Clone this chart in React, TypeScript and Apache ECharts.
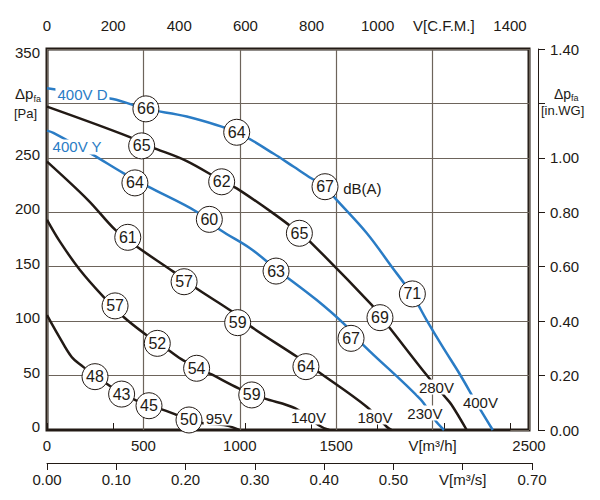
import { useEffect, useRef } from "react";
import * as echarts from "echarts";

const FONT = '"Liberation Sans", Arial, Helvetica, sans-serif';
const INK = "#221a15";
const BLUE = "#2a7cc5";
const GRID = "#6d645b";

// fan curves: [airflow m³/h, static pressure Pa]
const curve400VD = [[0, 314], [342, 304], [513, 295], [725, 288], [984, 273.5], [1174, 254], [1278, 242], [1373, 231], [1442, 223.5], [1494, 213], [1658, 181], [1788, 150], [1895, 124], [1969, 101], [2050, 77], [2142, 51], [2230, 24], [2312, 0]];
const curve280V = [[0, 297], [430, 269], [491, 263], [569, 258], [725, 247], [906, 229], [984, 222], [1174, 199], [1309, 181], [1373, 171.5], [1684, 115], [1727, 105], [1779, 93.5], [1969, 50.5], [2064, 30.6], [2099, 23], [2177, 0]];
const curve400VY = [[0, 275], [33, 273], [232, 253.5], [396, 236], [525, 223.5], [776, 200.5], [897, 184], [1053, 167], [1188, 148], [1399, 119.4], [1546, 96.5], [1641, 78], [1935, 28.5], [2012, 9.2], [2059, 0]];
const curve180V = [[0, 246.5], [214, 211], [353, 184], [465, 168.5], [655, 145.5], [776, 130], [958, 109], [1062, 94.5], [1295, 67.5], [1407, 53.5], [1658, 21.4], [1762, 3], [1788, 0]];
const curve140V = [[0, 193], [67, 173], [171, 147], [292, 122.5], [396, 104], [517, 87], [629, 73.5], [707, 64], [854, 51], [997, 38], [1127, 29], [1286, 20], [1416, 3.7], [1464, 0]];
const curve95V = [[0, 105.6], [59, 87], [128, 67], [188, 58], [249, 49], [306, 43], [387, 33], [439, 29], [529, 22.3], [595, 19], [673, 13.8], [736, 9.5], [802, 6.5], [932, 4], [997, 0]];

// noise level circles: [m³/h, Pa, dB(A)]
const dB400VD = [[513, 295, 66], [984, 273.5, 64], [1442, 223.5, 67], [1895, 125, 71]];
const dB280V = [[491, 261, 65], [906, 228, 62], [1309, 180.7, 65], [1727, 103.2, 69]];
const dB400VY = [[456, 227, 64], [842, 193.5, 60], [1188, 146, 63], [1577, 84.2, 67]];
const dB180V = [[419, 177, 61], [711, 136.2, 57], [989, 98.6, 59], [1343, 58.2, 64]];
const dB140V = [[353, 114, 57], [572, 79.6, 52], [776, 56.7, 54], [1062, 32.2, 59]];
const dB95V = [[249, 49, 48], [387, 33, 43], [529, 22.3, 45], [736.5, 9.2, 50]];

// curve names, placed at [m³/h, Pa]
const blueNames = ["400V D", "400V Y"];
const blueNamePos = [[184, 308.6], [156, 260]];
const inkNames = ["95V", "140V", "180V", "230V", "280V", "400V"];
const inkNamePos = [[892, 11], [1356, 11.9], [1701, 11.9], [1960, 15.6], [2020, 39.5], [2248, 25.7]];
const dbUnitPos = [1636, 222.3];

const curves = [
  { data: curve400VD, color: BLUE },
  { data: curve280V, color: INK },
  { data: curve400VY, color: BLUE },
  { data: curve180V, color: INK },
  { data: curve140V, color: INK },
  { data: curve95V, color: INK },
];

const near = (a: number, b: number) => Math.abs(a - b) < 1e-6;

export default function App() {
  const chartRef = useRef<HTMLDivElement>(null);

  useEffect(() => {
    document.body.style.margin = "0";
    if (!chartRef.current) return;
    const chart = echarts.init(chartRef.current, null, { renderer: "svg" });

    const labelBase = { fontFamily: FONT, fontSize: 15, color: INK };
    const axisLine = { show: true, lineStyle: { color: INK, width: 1 } };
    const axisTick = { show: true, length: 7, lineStyle: { color: INK, width: 1 } };

    chart.setOption({
      animation: false,
      textStyle: { fontFamily: FONT },
      grid: [
        { left: 47, top: 49, width: 482, height: 381, show: true, borderColor: INK, borderWidth: 3, backgroundColor: "transparent" },
        { left: 47, top: 39, width: 463, height: 391 },
        { left: 47, top: 49, width: 485, height: 414 },
      ],
      xAxis: [
        {
          gridIndex: 0, type: "value", position: "bottom", min: 0, max: 2500, interval: 500,
          axisLine: { show: false }, axisTick: { show: false },
          splitLine: { show: true, lineStyle: { color: GRID, width: 1.2 } },
          axisLabel: { ...labelBase, margin: 8, formatter: (v: number) => (v === 2000 ? "V[m³/h]" : String(v)) },
        },
        {
          gridIndex: 1, type: "value", position: "top", min: 0, max: 1400, interval: 200,
          axisLine, axisTick, splitLine: { show: false },
          axisLabel: { ...labelBase, margin: 6, formatter: (v: number) => (v === 1200 ? "V[C.F.M.]" : String(v)) },
        },
        {
          gridIndex: 2, type: "value", position: "bottom", min: 0, max: 0.7, interval: 0.1,
          axisLine, axisTick, splitLine: { show: false },
          axisLabel: { ...labelBase, margin: 9, formatter: (v: number) => (near(v, 0.6) ? "V[m³/s]" : v.toFixed(2)) },
        },
      ],
      yAxis: [
        {
          gridIndex: 0, type: "value", min: 0, max: 350, interval: 50,
          axisLine: { show: false }, axisTick: { show: false },
          splitLine: { show: true, lineStyle: { color: GRID, width: 1.2 } },
          axisLabel: {
            ...labelBase, margin: 7,
            formatter: (v: number) => (v === 300 ? "" : v === 350 ? `{top|${v}}` : `{n|${v}}`),
            rich: {
              n: { ...labelBase, padding: [0, 0, 7, 0] },
              top: { ...labelBase, padding: [6, 0, 0, 0] },
            },
          },
        },
        {
          gridIndex: 0, type: "value", position: "right", offset: 9, min: 0, max: 1.4, interval: 0.2,
          axisLine, axisTick, splitLine: { show: false },
          axisLabel: { ...labelBase, margin: 12, formatter: (v: number) => (near(v, 1.2) ? "" : v.toFixed(2)) },
        },
        { gridIndex: 1, type: "value", show: false, min: 0, max: 1 },
        { gridIndex: 2, type: "value", show: false, min: 0, max: 1 },
      ],
      series: [
        ...curves.map((c) => ({
          type: "line", xAxisIndex: 0, yAxisIndex: 0, data: c.data,
          smooth: 0.35, showSymbol: false, symbol: "none", silent: true, z: 2,
          lineStyle: { color: c.color, width: 2.5 },
        })),
        {
          type: "scatter", xAxisIndex: 0, yAxisIndex: 0, z: 4, silent: true,
          data: [...dB400VD, ...dB280V, ...dB400VY, ...dB180V, ...dB140V, ...dB95V],
          symbolSize: 26,
          itemStyle: { color: "#fff", borderColor: INK, borderWidth: 1, opacity: 1 },
          label: { show: true, position: "inside", ...labelBase, fontSize: 16, formatter: (p: any) => String(p.value[2]) },
        },
        {
          type: "scatter", xAxisIndex: 0, yAxisIndex: 0, z: 5, silent: true,
          data: blueNames.map((n, i) => ({ name: n, value: blueNamePos[i] })),
          symbolSize: 1, itemStyle: { color: "rgba(0,0,0,0)", opacity: 1 },
          label: { show: true, position: "inside", ...labelBase, color: BLUE, backgroundColor: "#fff", padding: [0, 2], formatter: "{b}" },
        },
        {
          type: "scatter", xAxisIndex: 0, yAxisIndex: 0, z: 5, silent: true,
          data: [
            ...inkNames.map((n, i) => ({ name: n, value: inkNamePos[i] })),
            { name: "dB(A)", value: dbUnitPos, label: { backgroundColor: "transparent" } },
          ],
          symbolSize: 1, itemStyle: { color: "rgba(0,0,0,0)", opacity: 1 },
          label: { show: true, position: "inside", ...labelBase, backgroundColor: "#fff", padding: [0, 2], formatter: "{b}" },
        },
      ],
      graphic: [
        { type: "text", x: 15, y: 93, z: 10, style: { text: "Δp", font: `15px ${FONT}`, fill: INK, textAlign: "left", textVerticalAlign: "middle" } },
        { type: "text", x: 33.5, y: 98.5, z: 10, style: { text: "fa", font: `9px ${FONT}`, fill: INK, textAlign: "left", textVerticalAlign: "middle" } },
        { type: "text", x: 14, y: 113, z: 10, style: { text: "[Pa]", font: `13px ${FONT}`, fill: INK, textAlign: "left", textVerticalAlign: "middle" } },
        { type: "text", x: 554, y: 93.5, z: 10, style: { text: "Δp", font: `14px ${FONT}`, fill: INK, textAlign: "left", textVerticalAlign: "middle" } },
        { type: "text", x: 571, y: 97.5, z: 10, style: { text: "fa", font: `9px ${FONT}`, fill: INK, textAlign: "left", textVerticalAlign: "middle" } },
        { type: "text", x: 541, y: 110.5, z: 10, style: { text: "[in.WG]", font: `13px ${FONT}`, fill: INK, textAlign: "left", textVerticalAlign: "middle" } },
      ],
    });

    return () => chart.dispose();
  }, []);

  return <div ref={chartRef} style={{ width: 600, height: 500 }} />;
}
